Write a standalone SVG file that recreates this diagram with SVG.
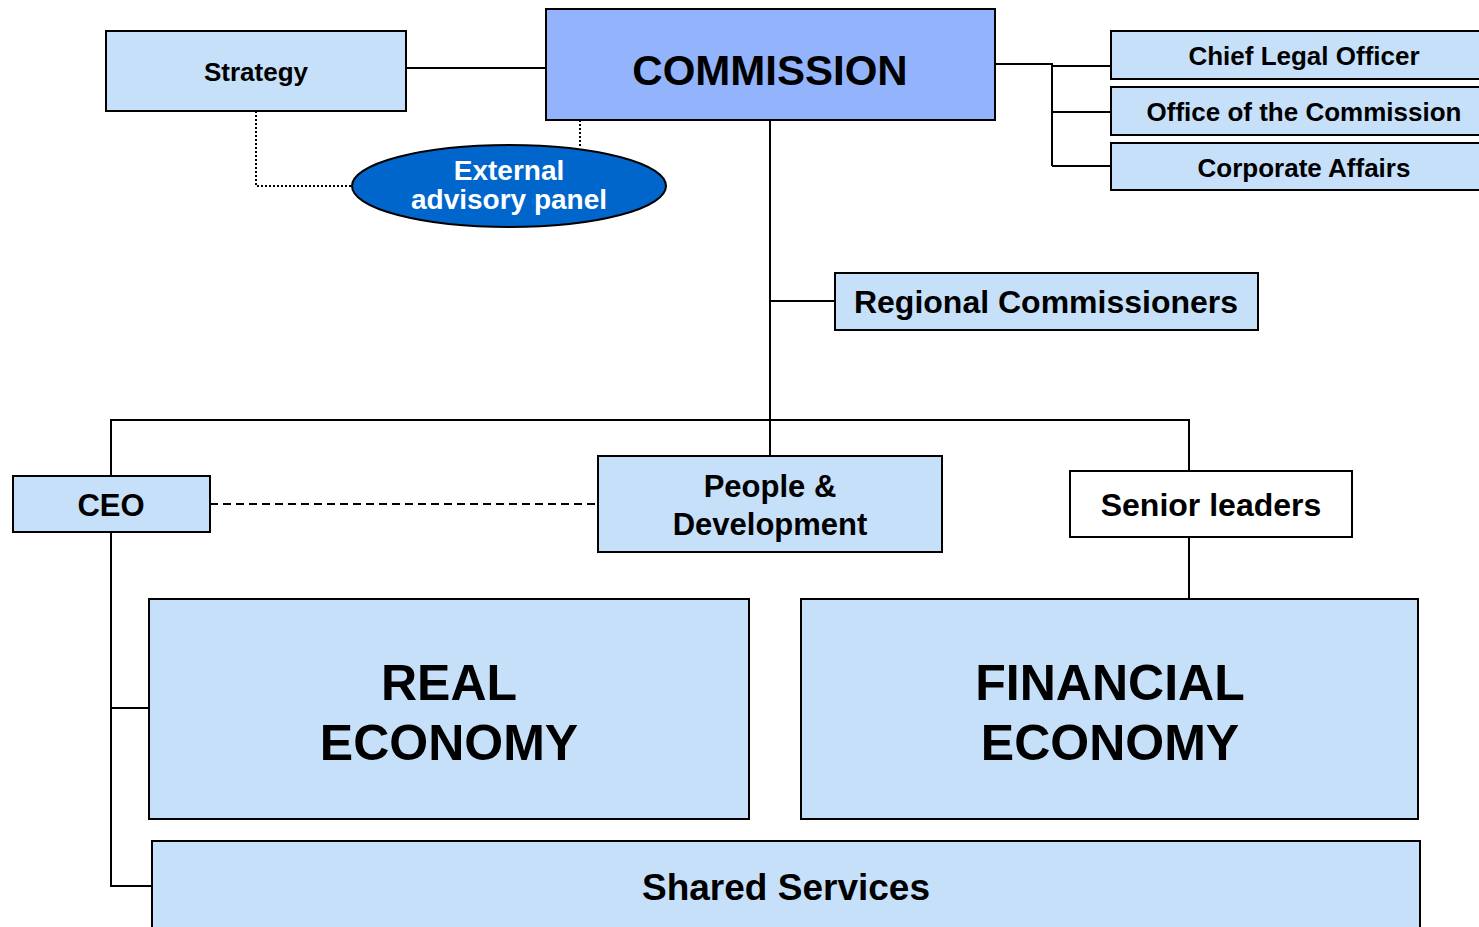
<svg xmlns="http://www.w3.org/2000/svg" width="1479" height="927" viewBox="0 0 1479 927">
<style>
.box{fill:#c6e0fa;stroke:#000;stroke-width:2}
.t{font-family:"Liberation Sans",Arial,sans-serif;font-weight:bold;fill:#000;text-anchor:middle}
.w{fill:#fff}
.ln{fill:none;stroke:#000;stroke-width:2}
</style>
<rect width="1479" height="927" fill="#fff"/>
<g id="connectors">
<path class="ln" d="M406 68H546"/>
<path class="ln" d="M256 111V186H352" stroke-dasharray="2 2"/>
<path class="ln" d="M580 120V147" stroke-dasharray="2 2"/>
<path class="ln" d="M995 64H1052V166M1052 66H1111M1052 112H1111M1052 166H1111"/>
<path class="ln" d="M770 120V456M770 301H835"/>
<path class="ln" d="M111 476V420H1189V471M1189 537V599"/>
<path class="ln" d="M210 504H598" stroke-dasharray="8 5"/>
<path class="ln" d="M111 532V886H152M111 708H149"/>
</g>
<g id="strategy"><rect class="box" x="106" y="31" width="300" height="80"/><text class="t" x="256" y="81" font-size="26">Strategy</text></g>
<g id="commission"><rect x="546" y="9" width="449" height="111" fill="#93b4fd" stroke="#000" stroke-width="2"/><text class="t" x="770" y="85" font-size="42">COMMISSION</text></g>
<g id="advisory"><ellipse cx="509" cy="186" rx="157" ry="41" fill="#0066cc" stroke="#000" stroke-width="2"/><text class="t w" x="509" y="180" font-size="28" style="fill:#fff">External</text><text class="t w" x="509" y="209" font-size="28" style="fill:#fff">advisory panel</text></g>
<g id="clo"><rect class="box" x="1111" y="31" width="370" height="48"/><text class="t" x="1304" y="65" font-size="26">Chief Legal Officer</text></g>
<g id="office"><rect class="box" x="1111" y="87" width="370" height="48"/><text class="t" x="1304" y="121" font-size="26">Office of the Commission</text></g>
<g id="corporate"><rect class="box" x="1111" y="143" width="370" height="47"/><text class="t" x="1304" y="177" font-size="26">Corporate Affairs</text></g>
<g id="regional"><rect class="box" x="835" y="273" width="423" height="57"/><text class="t" x="1046" y="313" font-size="32">Regional Commissioners</text></g>
<g id="ceo"><rect class="box" x="13" y="476" width="197" height="56"/><text class="t" x="111" y="516" font-size="31">CEO</text></g>
<g id="people"><rect class="box" x="598" y="456" width="344" height="96"/><text class="t" x="770" y="497" font-size="31">People &amp;</text><text class="t" x="770" y="535" font-size="31">Development</text></g>
<g id="senior"><rect x="1070" y="471" width="282" height="66" fill="#fff" stroke="#000" stroke-width="2"/><text class="t" x="1211" y="516" font-size="32">Senior leaders</text></g>
<g id="real"><rect class="box" x="149" y="599" width="600" height="220"/><text class="t" x="449" y="700" font-size="50">REAL</text><text class="t" x="449" y="760" font-size="50">ECONOMY</text></g>
<g id="financial"><rect class="box" x="801" y="599" width="617" height="220"/><text class="t" x="1110" y="700" font-size="50">FINANCIAL</text><text class="t" x="1110" y="760" font-size="50">ECONOMY</text></g>
<g id="shared"><rect class="box" x="152" y="841" width="1268" height="95"/><text class="t" x="786" y="900" font-size="37">Shared Services</text></g>
</svg>
